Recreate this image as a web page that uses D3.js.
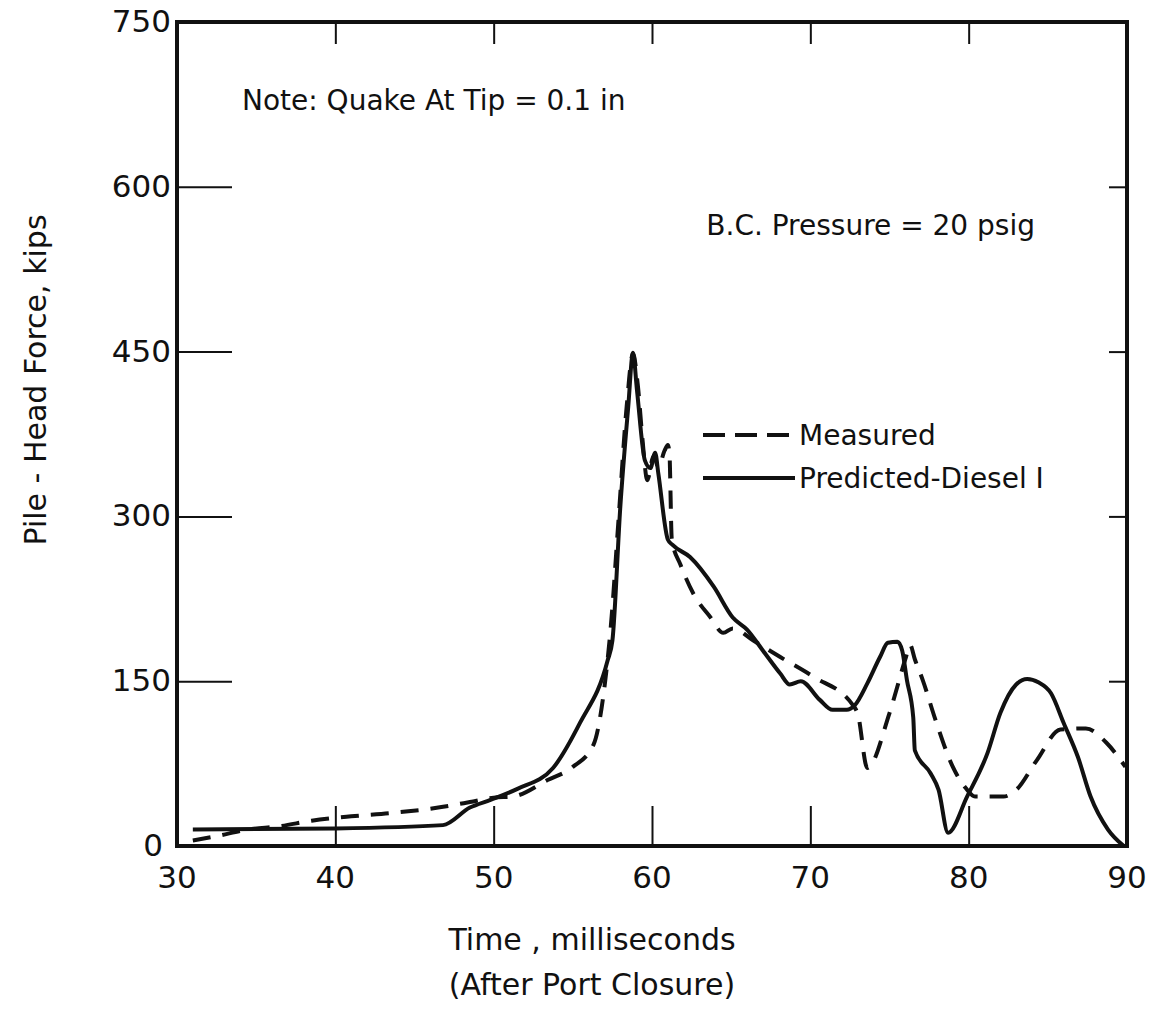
<!DOCTYPE html>
<html>
<head>
<meta charset="utf-8">
<script src="https://cdn.jsdelivr.net/npm/d3@7"></script>
<style>
  body { margin: 0; background: #fff; }
  svg text { font-family: "DejaVu Sans", sans-serif; fill: #111; }
</style>
</head>
<body>
<div id="chartArea"></div>
<script>
const width = 1159;
const height = 1009;

// time (ms after port closure) vs pile-head force (kips)
const measuredTime = [31.0, 32.5, 34.5, 36.5, 38.5, 41, 43.5, 46.5, 48.5, 50, 51.2, 53.4, 55, 56.3, 57, 57.4, 57.9, 58.4, 58.8, 59.1, 59.4, 59.7, 60.1, 60.4, 60.8, 61.0, 61.1, 61.25, 61.8, 62.6, 63.7, 64.5, 65.1, 66.4, 68.1, 70.2, 72.7, 73.0, 73.6, 75, 76.0, 76.3, 76.6, 77.1, 77.9, 79.0, 79.8, 80.4, 82.2, 83, 84.3, 85.8, 87.4, 88.7, 89.9];
const measuredForce = [5, 9, 15, 18, 23, 27, 30, 35, 40, 44, 45, 60, 72, 92, 145, 200, 300, 400, 448, 420, 370, 333, 355, 345, 360, 365, 358, 279, 256, 230, 208, 194, 198, 187, 172, 154, 128, 120, 71, 121, 170, 183, 170, 151, 115, 72, 53, 45, 45, 51, 78, 106, 107, 94, 72];

const predictedTime = [31, 40, 46.8, 48.5, 49.8, 51.5, 53.75, 55.45, 57.2, 57.5, 58, 58.5, 58.8, 59.05, 59.55, 59.9, 60.2, 60.4, 61.0, 61.3, 62.4, 63.9, 65.1, 66.0, 67.0, 68.1, 68.7, 69.4, 70.6, 71.4, 72.3, 72.8, 73.6, 74.4, 74.9, 75.5, 75.8, 76.1, 76.5, 76.6, 77.6, 78.1, 78.7, 79.9, 81.2, 82, 83.0, 83.7, 84.4, 85.2, 86, 86.9, 87.7, 88.8, 89.8];
const predictedForce = [15, 16, 19, 35, 42, 52, 71, 112, 169, 187, 309, 400, 449, 415, 351, 344, 358, 339, 279, 274, 263, 236, 208, 197, 178, 157, 147, 150, 133, 124, 124, 128, 148, 172, 185, 186, 178, 151, 117, 87, 66, 51, 12, 45, 85, 121, 147, 152, 149, 139, 112, 81, 45, 15, 0];

const xTicks = [30, 40, 50, 60, 70, 80, 90];
const yTicks = [0, 150, 300, 450, 600, 750];
const innerTicks = [150, 300, 450, 600];
const topTicks = [40, 50, 60, 70, 80];

const legendNames = ["Measured", "Predicted-Diesel I"];

const margin = { left: 177, right: 1127, top: 22, bottom: 846 };

let svg;

function initializeVisualization() {
    svg = d3.select("#chartArea")
        .append("svg")
        .attr("width", width)
        .attr("height", height);
}

function drawChart() {
    const x = d3.scaleLinear().domain([30, 90]).range([margin.left, margin.right]);
    const y = d3.scaleLinear().domain([0, 750]).range([margin.bottom, margin.top]);

    // tick labels
    svg.append("g")
        .selectAll("text")
        .data(xTicks)
        .enter().append("text")
        .attr("x", d => x(d))
        .attr("y", margin.bottom + 42)
        .attr("text-anchor", "middle")
        .style("font-size", "31px")
        .text(d => d);

    svg.append("g")
        .selectAll("text")
        .data(yTicks)
        .enter().append("text")
        .attr("x", d => d === 0 ? 163 : 171)
        .attr("y", d => y(d) + 10)
        .attr("text-anchor", "end")
        .style("font-size", "31px")
        .text(d => d);

    // inward ticks on all four sides
    svg.append("g").call(d3.axisBottom(x).tickValues(topTicks).tickSize(-40).tickFormat(""))
        .attr("transform", `translate(0,${margin.bottom})`);
    svg.append("g").call(d3.axisTop(x).tickValues(topTicks).tickSize(-22).tickFormat(""))
        .attr("transform", `translate(0,${margin.top})`);
    svg.append("g").call(d3.axisLeft(y).tickValues(innerTicks).tickSize(-55).tickFormat(""))
        .attr("transform", `translate(${margin.left},0)`);
    svg.append("g").call(d3.axisRight(y).tickValues(innerTicks).tickSize(-18).tickFormat(""))
        .attr("transform", `translate(${margin.right},0)`);

    svg.selectAll(".domain").remove();
    svg.selectAll(".tick line").attr("stroke", "#111").attr("stroke-width", 2);

    // frame
    svg.append("rect")
        .attr("x", margin.left)
        .attr("y", margin.top)
        .attr("width", margin.right - margin.left)
        .attr("height", margin.bottom - margin.top)
        .attr("fill", "none")
        .attr("stroke", "#111")
        .attr("stroke-width", 4);

    const line = d3.line()
        .x(d => x(d[0]))
        .y(d => y(d[1]))
        .curve(d3.curveMonotoneX);

    const measured = measuredTime.map((t, i) => [t, measuredForce[i]]);
    const predicted = predictedTime.map((t, i) => [t, predictedForce[i]]);

    svg.append("path")
        .datum(measured)
        .attr("d", line)
        .attr("fill", "none")
        .attr("stroke", "#111")
        .attr("stroke-width", 4)
        .attr("stroke-dasharray", "18,12");

    svg.append("path")
        .datum(predicted)
        .attr("d", line)
        .attr("fill", "none")
        .attr("stroke", "#111")
        .attr("stroke-width", 4)
        .attr("stroke-linejoin", "round");

    // legend
    const legend = svg.append("g")
        .selectAll("g")
        .data(legendNames)
        .enter().append("g")
        .attr("transform", (d, i) => `translate(703,${435 + i * 43})`);

    legend.append("line")
        .attr("x1", 0)
        .attr("x2", 92)
        .attr("stroke", "#111")
        .attr("stroke-width", 4)
        .attr("stroke-dasharray", (d, i) => i === 0 ? "22,10" : null);

    legend.append("text")
        .attr("x", 96)
        .attr("y", 10)
        .style("font-size", "28px")
        .text(d => d);

    // notes
    svg.append("text")
        .attr("x", 242)
        .attr("y", 110)
        .style("font-size", "28px")
        .text("Note: Quake At Tip = 0.1 in");

    svg.append("text")
        .attr("x", 1035)
        .attr("y", 235)
        .attr("text-anchor", "end")
        .style("font-size", "28px")
        .text("B.C. Pressure = 20 psig");

    // axis titles
    svg.append("text")
        .attr("transform", "translate(46,380) rotate(-90)")
        .attr("text-anchor", "middle")
        .style("font-size", "30px")
        .text("Pile - Head Force, kips");

    svg.append("text")
        .attr("x", 592)
        .attr("y", 950)
        .attr("text-anchor", "middle")
        .style("font-size", "30px")
        .text("Time , milliseconds");

    svg.append("text")
        .attr("x", 592)
        .attr("y", 995)
        .attr("text-anchor", "middle")
        .style("font-size", "30px")
        .text("(After Port Closure)");
}

initializeVisualization();
drawChart();
</script>
</body>
</html>
